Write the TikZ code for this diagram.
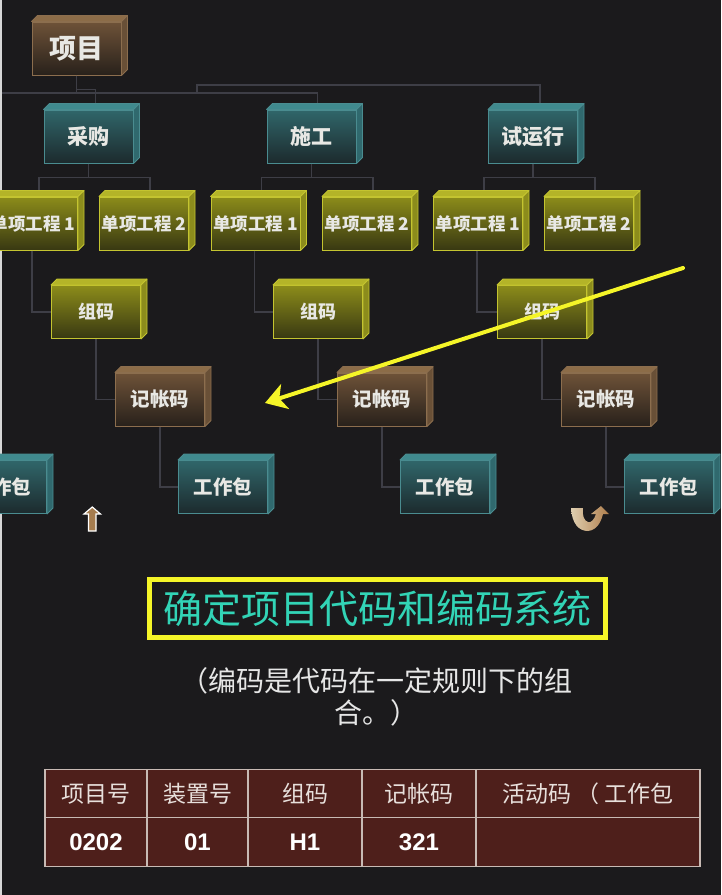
\documentclass[tikz,border=0pt]{standalone}
\usepackage{fontspec}
\setmainfont{Liberation Sans}
\newfontfamily\cjk{Noto Sans CJK SC}
\usetikzlibrary{calc,arrows.meta}

\definecolor{bgc}{RGB}{27,26,28}
\definecolor{stripc}{RGB}{215,215,215}
\definecolor{connc}{RGB}{62,62,70}
\definecolor{boxtext}{RGB}{232,232,228}
% brown boxes
\definecolor{brnup}{RGB}{110,82,56}
\definecolor{brndown}{RGB}{40,33,27}
\definecolor{brnline}{RGB}{140,110,78}
\definecolor{brntop}{RGB}{140,108,72}
\definecolor{brnside}{RGB}{105,80,55}
% teal boxes
\definecolor{tlup}{RGB}{48,102,106}
\definecolor{tldown}{RGB}{28,42,45}
\definecolor{tlline}{RGB}{74,140,144}
\definecolor{tltop}{RGB}{64,138,142}
\definecolor{tlside}{RGB}{48,105,110}
% yellow boxes
\definecolor{ylup}{RGB}{140,140,26}
\definecolor{yldown}{RGB}{56,56,18}
\definecolor{ylline}{RGB}{196,196,48}
\definecolor{yltop}{RGB}{180,180,40}
\definecolor{ylside}{RGB}{140,140,28}
% annotations
\definecolor{ptrc}{RGB}{245,245,40}
\definecolor{ttltext}{RGB}{50,212,182}
\definecolor{subtext}{RGB}{230,230,230}
\definecolor{tanc}{RGB}{165,124,78}
\definecolor{uturnL}{RGB}{222,206,176}
\definecolor{uturnR}{RGB}{176,126,76}
\definecolor{tblc}{RGB}{78,31,27}
\definecolor{tblline}{RGB}{200,186,180}
\definecolor{tblhead}{RGB}{232,224,220}

\newcommand\fsz[1]{\fontsize{#1}{#1}\selectfont}

\begin{document}
\begin{tikzpicture}[x=1pt,y=-1pt,
  conn/.style={draw=connc,line width=1.5pt},
  wbs/.style={minimum width=89pt,minimum height=53pt,inner sep=0pt,
    draw=#1line,line width=1pt,top color=#1up,bottom color=#1down,
    text=boxtext,font=\cjk\bfseries\fsz{21}},
  ptr/.style={draw=ptrc,line width=4pt,line cap=round,
    -{Stealth[length=21pt,width=26pt,inset=6pt]}},
  cell/.style={draw=tblline,fill=tblc,line width=1.2pt,inner sep=0pt,
    minimum height=49pt}]
\useasboundingbox (0,0) rectangle (721,895);
\fill[bgc] (0,0) rectangle (721,895);
\fill[stripc] (0,0) rectangle (2,895);

% project and phases
\node[wbs=brn,font=\cjk\bfseries\fsz{27}] (pj) at (76.5,48.5) {项目};
\node[wbs=tl] (cg) at (88.5,136.5) {采购};
\node[wbs=tl] (sg) at (311.5,136.5) {施工};
\node[wbs=tl] (syx) at (533,136.5) {试运行};

% single projects
\foreach \i/\x/\t in {1/33/1,2/144/2,3/255.5/1,4/367/2,5/478/1,6/589/2}
  \node[wbs=yl,font=\cjk\bfseries\fsz{17.5}] (dx\i) at (\x,223.5) {单项工程 \t};

% group code, account code, work package
\foreach \i/\x in {1/96,2/318,3/542}{
  \node[wbs=yl,font=\cjk\bfseries\fsz{18}] (zm\i) at (\x,312) {组码};
  \node[wbs=brn,font=\cjk\bfseries\fsz{19.5}] (jz\i) at (\x+64,399.5) {记帐码};
  \node[wbs=tl,font=\cjk\bfseries\fsz{19.5}] (gb\i) at (\x+127,487) {工作包};
}
\node[wbs=tl,font=\cjk\bfseries\fsz{19.5}] (gb0) at (2,487) {工作包};

% connectors
\coordinate (busL) at (2,93);
\coordinate (loopL) at (197,93);
\draw[conn] (pj.south) -- (pj.south |- busL);
\draw[conn] (pj.south) -- ++(0,14) -| ([xshift=7pt]cg.north);
\draw[conn] (busL) -| ([xshift=6pt]sg.north);
\draw[conn] (loopL) |- ++(343,-8) -- ([xshift=7pt]syx.north);
\foreach \p/\a/\b in {cg/dx1/dx2,sg/dx3/dx4,syx/dx5/dx6}
  \draw[conn] ([xshift=6pt]\a.north) |- ($(\p.south)+(0,14)$) -| ([xshift=6pt]\b.north)
    (\p.south) -- ++(0,14);
\foreach \i/\d in {1/dx1,2/dx3,3/dx5}{
  \draw[conn] ([xshift=-1pt]\d.south) |- (zm\i.west);
  \draw[conn] (zm\i.south) |- (jz\i.west);
  \draw[conn] (jz\i.south) |- (gb\i.west);
}

% 3d faces
\foreach \n/\c in {pj/brn,cg/tl,sg/tl,syx/tl,dx1/yl,dx2/yl,dx3/yl,dx4/yl,dx5/yl,dx6/yl,
  zm1/yl,zm2/yl,zm3/yl,jz1/brn,jz2/brn,jz3/brn,gb0/tl,gb1/tl,gb2/tl,gb3/tl}{
  \filldraw[draw=\c line,fill=\c top,line width=0.8pt,line join=round]
    (\n.north west) -- ++(6,-6) -- ($(\n.north east)+(6,-6)$) -- (\n.north east) -- cycle;
  \filldraw[draw=\c line,fill=\c side,line width=0.8pt,line join=round]
    (\n.north east) -- ++(6,-6) -- ($(\n.south east)+(6,-6)$) -- (\n.south east) -- cycle;
}

% pointer
\coordinate (ptrS) at (683,268);
\coordinate (ptrE) at (265,403);
\draw[ptr] (ptrS) -- (ptrE);

% small arrows
\filldraw[draw=white,fill=tanc,line width=1.2pt]
  (92.3,507) -- (100.5,514) -- (96,514) -- (96,531) -- (88.5,531) -- (88.5,514) -- (84,514) -- cycle;
\shade[left color=uturnL,right color=uturnR]
  (571,508) .. controls (572,524) and (579,531) .. (588,531)
  .. controls (597,530) and (601,522) .. (603,514) -- (609,514) -- (601,506) -- (591,514)
  -- (596,514) .. controls (594,520) and (591,523) .. (588,522)
  .. controls (584,521) and (582,515) .. (583,508) -- cycle;

% title and note
\node[draw=ptrc,line width=5pt,minimum width=456pt,minimum height=58pt,inner sep=0pt,
  text=ttltext,font=\cjk\fsz{39}] (ttl) at (377.5,608.5) {确定项目代码和编码系统};
\node[align=center,text=subtext,font=\cjk\fontsize{28}{32}\selectfont] (note) at (376,697)
  {（编码是代码在一定规则下的组\\合。）};

% code table
\foreach \i/\xa/\xb/\h/\v in {1/45/147/项目号/0202,2/147/248/装置号/01,3/248/362/组码/H1,
  4/362/476/记帐码/321,5/476/700/{活动码 （ 工作包}/{}}{
  \node[cell,minimum width={\xb-\xa},text=tblhead,font=\cjk\fsz{23}]
    (h\i) at ({(\xa+\xb)/2},794) {\h};
  \node[cell,minimum width={\xb-\xa},text=white,font=\bfseries\fsz{24}]
    (d\i) at ({(\xa+\xb)/2},842) {\v};
}
\end{tikzpicture}
\end{document}
